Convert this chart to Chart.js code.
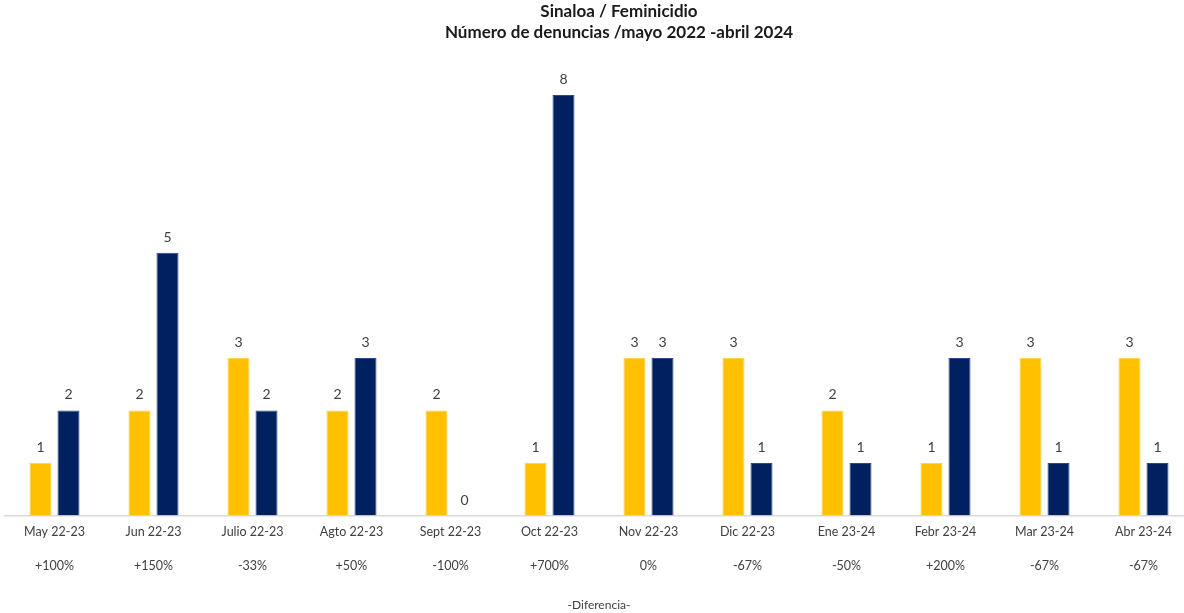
<!DOCTYPE html>
<html>
<head>
<meta charset="utf-8">
<script src="https://cdn.jsdelivr.net/npm/chart.js@4"></script>
<style>
  html, body { margin: 0; padding: 0; background: #fff; overflow: hidden; }
</style>
</head>
<body>
<canvas id="chart1" width="1200" height="613"></canvas>
<script>
const months = ["May 22-23", "Jun 22-23", "Julio 22-23", "Agto 22-23", "Sept 22-23", "Oct 22-23",
                "Nov 22-23", "Dic 22-23", "Ene 23-24", "Febr 23-24", "Mar 23-24", "Abr 23-24"];
const prevYear = [1, 2, 3, 2, 2, 1, 3, 3, 2, 1, 3, 3];
const currYear = [2, 5, 2, 3, 0, 8, 3, 1, 1, 3, 1, 1];
const diffs = ["+100%", "+150%", "-33%", "+50%", "-100%", "+700%", "0%", "-67%", "-50%", "+200%", "-67%", "-67%"];
const titleLines = ["Sinaloa / Feminicidio", "Número de denuncias /mayo 2022 -abril 2024"];

const FONT = "Lato, 'Open Sans', sans-serif";

// value labels above each bar + the two-line heading
const barLabels = {
  id: "barLabels",
  afterDatasetsDraw(chart) {
    const ctx = chart.ctx;
    ctx.save();
    ctx.font = "14px " + FONT;
    ctx.fillStyle = "#404040";
    ctx.textAlign = "center";
    ctx.textBaseline = "alphabetic";
    chart.data.datasets.forEach((ds, i) => {
      chart.getDatasetMeta(i).data.forEach((bar, j) => {
        ctx.fillText(String(ds.data[j]), bar.x, bar.y - 11);
      });
    });

    ctx.font = "bold 17px " + FONT;
    ctx.fillStyle = "#1a1a1a";
    ctx.textBaseline = "middle";
    titleLines.forEach((t, i) => ctx.fillText(t, 619, 12 + i * 21));
    ctx.restore();
  }
};

new Chart(document.getElementById("chart1"), {
  type: "bar",
  data: {
    labels: months.map((m, i) => [m, "", diffs[i]]),
    datasets: [{
      label: "2022-23",
      data: prevYear,
      backgroundColor: "#FFC000",
      borderColor: "#FFD24D",
      borderWidth: 1
    }, {
      label: "2023-24",
      data: currYear,
      backgroundColor: "#002060",
      borderColor: "#2B4A8C",
      borderWidth: 1
    }]
  },
  options: {
    responsive: false,
    animation: false,
    layout: { padding: { left: 5, right: 7, top: 53, bottom: 0 } },
    datasets: {
      bar: { categoryPercentage: 0.566, barPercentage: 0.786 }
    },
    plugins: {
      legend: { display: false },
      tooltip: { enabled: false },
      title: { display: false }
    },
    scales: {
      x: {
        grid: { display: false, drawTicks: false },
        border: { display: true, color: "#d9d9d9", width: 1.5 },
        ticks: {
          color: "#404040",
          padding: 8,
          maxRotation: 0,
          autoSkip: false,
          font: { family: FONT, size: 12.5, lineHeight: 1.36 }
        },
        title: {
          display: true,
          text: "-Diferencia-",
          color: "#404040",
          font: { family: FONT, size: 12 },
          padding: { top: 15, bottom: 1 }
        }
      },
      y: {
        display: false,
        min: 0,
        max: 8.8
      }
    }
  },
  plugins: [barLabels]
});
</script>
</body>
</html>
